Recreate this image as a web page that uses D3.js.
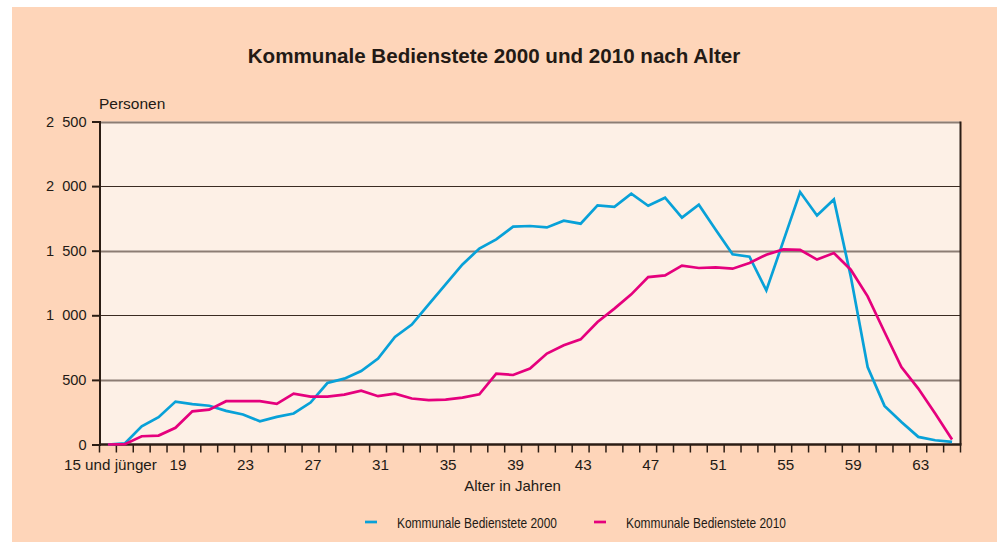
<!DOCTYPE html>
<html>
    <head>
        <meta charset="UTF-8">
        <title>Kommunale Bedienstete 2000 und 2010 nach Alter</title>
        <style>
            body {margin:0; background:#fff;}
            svg {display:block;}
            text {font-family: "Liberation Sans", Arial, sans-serif; fill:#231a15;}
            .axis path, .axis line {stroke:#2b1d14;}
        </style>
        <script src="https://cdn.jsdelivr.net/npm/d3@7"></script>
    </head>
    <body>
        <svg width="997" height="542"></svg>

        <script>
            //... data
            var ages = ["15 und jünger"];
            for (var a = 16; a <= 65; a++) ages.push(String(a));
            var shownTicks = ["15 und jünger","19","23","27","31","35","39","43","47","51","55","59","63"];
            var yTicks = [0, 500, 1000, 1500, 2000, 2500];

            var staff2000 = [0, 8, 140, 211, 332, 312, 300, 260, 232, 180, 214, 240, 325, 476,
                510, 569, 665, 832, 928, 1085, 1240, 1394, 1516, 1588, 1686, 1691, 1680, 1732, 1709,
                1851, 1840, 1941, 1848, 1910, 1756, 1856, 1663, 1472, 1454, 1193, 1572, 1954, 1773,
                1897, 1300, 600, 299, 175, 59, 33, 20];
            var staff2010 = [0, 3, 64, 69, 129, 257, 270, 335, 335, 335, 314, 394, 371, 371,
                386, 417, 374, 394, 356, 343, 348, 363, 389, 549, 538, 588, 704, 768, 814,
                948, 1052, 1162, 1296, 1309, 1384, 1366, 1371, 1361, 1405, 1469, 1510, 1507, 1431,
                1482, 1353, 1147, 871, 600, 433, 240, 39];

            var series = [
                {name: "Kommunale Bedienstete 2000", values: staff2000, color: "#08a1d8"},
                {name: "Kommunale Bedienstete 2010", values: staff2010, color: "#e5007d"}
            ];

            var svg = d3.select("svg");
            var pLeft = 99.5, pRight = 960.5, pTop = 121.5, pBottom = 444.5;

            //... panel backgrounds
            svg.append("rect").attr("x", 12).attr("y", 7).attr("width", 985).attr("height", 535)
                .attr("fill", "#fed5b9");
            svg.append("rect").attr("x", pLeft).attr("y", pTop).attr("width", pRight - pLeft).attr("height", pBottom - pTop)
                .attr("fill", "#fdf0e6");

            var x = d3.scaleBand().domain(ages).range([pLeft, pRight]).padding(0);
            var y = d3.scaleLinear().domain([0, 2500]).range([pBottom, pTop]);

            svg.append("text").attr("x", 494).attr("y", 63).attr("text-anchor", "middle")
                .style("font-size", "20.6px").style("font-weight", "bold")
                .text("Kommunale Bedienstete 2000 und 2010 nach Alter");

            //... grid (the odd ones look softer in the original)
            svg.append("g").selectAll("line")
                .data(yTicks.slice(1))
                .enter().append("line")
                .attr("x1", pLeft).attr("x2", pRight)
                .attr("y1", d => Math.round(y(d)) + 0.5).attr("y2", d => Math.round(y(d)) + 0.5)
                .attr("stroke", d => d % 1000 ? "#8c7d74" : "#3b2b22")
                .attr("stroke-width", d => d % 1000 ? 2 : 1.2);
            svg.append("line").attr("x1", pRight).attr("x2", pRight).attr("y1", pTop).attr("y2", pBottom)
                .attr("stroke", "#2b1d14").attr("stroke-width", 2);

            //... y axis
            var yAxis = svg.append("g").attr("class", "axis")
                .attr("transform", "translate(" + pLeft + ",0)")
                .call(d3.axisLeft(y).tickValues(yTicks).tickSize(7.5).tickPadding(5.5)
                    .tickFormat(d => d3.format(",")(d).replace(",", "  ")));
            yAxis.select(".domain").attr("stroke-width", 2);
            yAxis.selectAll(".tick line").attr("stroke-width", 2);
            yAxis.selectAll("text").style("font-size", "14.6px").style("white-space", "pre")
                .attr("fill", "#231a15")
                .style("font-family", "Liberation Sans, Arial, sans-serif");

            svg.append("text").attr("x", 99).attr("y", 109).style("font-size", "15.5px").text("Personen");

            //... x axis: ticks on band edges, labels at band centres
            var edges = ages.map(d => x(d)).concat([pRight]);
            var xg = svg.append("g").attr("class", "axis");
            xg.append("line").attr("x1", pLeft).attr("x2", pRight + 1).attr("y1", pBottom).attr("y2", pBottom)
                .attr("stroke-width", 2.5);
            xg.selectAll(".xt").data(edges).enter().append("line")
                .attr("x1", d => d).attr("x2", d => d)
                .attr("y1", pBottom).attr("y2", pBottom + 8).attr("stroke-width", 1.5);
            xg.selectAll(".xl").data(shownTicks).enter().append("text")
                .attr("x", d => x(d) + x.bandwidth() / 2 + 2.5)
                .attr("y", 470).attr("text-anchor", "middle")
                .style("font-size", "15.2px").text(d => d);

            svg.append("text").attr("x", 512.5).attr("y", 491).attr("text-anchor", "middle")
                .style("font-size", "15px").text("Alter in Jahren");

            //... lines
            var line = d3.line()
                .x((d, i) => x(ages[i]) + x.bandwidth() / 2)
                .y(d => y(d));
            svg.selectAll(".series").data(series).enter().append("path")
                .attr("d", d => line(d.values))
                .attr("fill", "none").attr("stroke", d => d.color)
                .attr("stroke-width", 2.7).attr("stroke-linejoin", "miter");

            //... legend
            var lg = svg.selectAll(".legend").data(series).enter().append("g")
                .attr("transform", (d, i) => "translate(" + (365 + i * 229) + ",522)");
            lg.append("line").attr("x1", 0).attr("x2", 12).attr("y1", 0).attr("y2", 0)
                .attr("stroke", d => d.color).attr("stroke-width", 2.7);
            lg.append("text").attr("x", 32).attr("y", 5.5).style("font-size", "15px")
                .attr("textLength", 160).attr("lengthAdjust", "spacingAndGlyphs")
                .text(d => d.name);
        </script>
    </body>
</html>
